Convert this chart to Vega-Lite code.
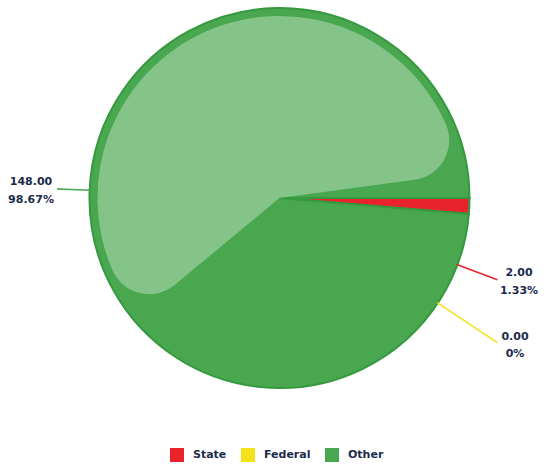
{
  "$schema": "https://vega.github.io/schema/vega-lite/v6.json",
  "width": 529,
  "height": 396,
  "autosize": {"type": "none"},
  "padding": {"left": 15, "top": 0, "right": 0, "bottom": 71},
  "background": "white",
  "config": {"view": {"stroke": null}},
  "data": {
    "values": [
      {"category": "State", "value": 2, "label": "2.00\n1.33%"},
      {"category": "Federal", "value": 0, "label": "0.00\n0%"},
      {"category": "Other", "value": 148, "label": "148.00\n98.67%"}
    ]
  },
  "layer": [
    {
      "mark": {"type": "arc", "outerRadius": 190, "stroke": "#35993f", "strokeWidth": 2},
      "encoding": {
        "theta": {"field": "value", "type": "quantitative", "stack": true, "scale": {"range": [1.5708, 7.854]}},
        "order": {"field": "category", "sort": "descending"},
        "color": {
          "field": "category",
          "type": "nominal",
          "scale": {"domain": ["State", "Federal", "Other"], "range": ["#e8232b", "#f3e21c", "#48a74f"]},
          "legend": {
            "orient": "none",
            "legendX": 155,
            "legendY": 448,
            "direction": "horizontal",
            "title": null,
            "symbolType": "square",
            "symbolSize": 196,
            "symbolStrokeWidth": 0,
            "labelFont": "DejaVu Sans",
            "labelFontWeight": "bold",
            "labelFontSize": 11,
            "labelColor": "#1c2b4b",
            "labelOffset": 9,
            "columnPadding": 14,
            "padding": 0
          }
        }
      }
    },
    {
      "transform": [{"filter": "datum.category == 'Other'"}],
      "mark": {"type": "arc", "theta": 4.02, "theta2": 7.72, "outerRadius": 182, "cornerRadius": 40, "fill": "white", "fillOpacity": 0.33},
      "encoding": {}
    },
    {
      "transform": [{"filter": "datum.category == 'State'"}],
      "mark": {"type": "arc", "theta": 1.9298, "theta2": 1.9299, "innerRadius": 190, "outerRadius": 232, "stroke": "#e8232b", "strokeWidth": 1.5, "fill": null},
      "encoding": {}
    },
    {
      "transform": [{"filter": "datum.category == 'Federal'"}],
      "mark": {"type": "arc", "theta": 2.1567, "theta2": 2.1568, "innerRadius": 190, "outerRadius": 261, "stroke": "#f3e21c", "strokeWidth": 1.5, "fill": null},
      "encoding": {}
    },
    {
      "transform": [{"filter": "datum.category == 'Other'"}],
      "mark": {"type": "arc", "theta": 4.753, "theta2": 4.7531, "innerRadius": 190, "outerRadius": 222, "stroke": "#48a74f", "strokeWidth": 1.5, "fill": null},
      "encoding": {}
    },
    {
      "transform": [{"filter": "datum.category == 'State'"}],
      "mark": {"type": "text", "theta": 1.8743, "radius": 251, "lineBreak": "\n", "font": "DejaVu Sans", "fontWeight": "bold", "fontSize": 11, "color": "#1c2b4b", "align": "center", "baseline": "middle", "lineHeight": 18},
      "encoding": {"text": {"field": "label"}}
    },
    {
      "transform": [{"filter": "datum.category == 'Federal'"}],
      "mark": {"type": "text", "theta": 2.104, "radius": 273.5, "lineBreak": "\n", "font": "DejaVu Sans", "fontWeight": "bold", "fontSize": 11, "color": "#1c2b4b", "align": "center", "baseline": "middle", "lineHeight": 17},
      "encoding": {"text": {"field": "label"}}
    },
    {
      "transform": [{"filter": "datum.category == 'Other'"}],
      "mark": {"type": "text", "theta": 4.7767, "radius": 249, "lineBreak": "\n", "font": "DejaVu Sans", "fontWeight": "bold", "fontSize": 11, "color": "#1c2b4b", "align": "center", "baseline": "middle", "lineHeight": 18},
      "encoding": {"text": {"field": "label"}}
    }
  ]
}
